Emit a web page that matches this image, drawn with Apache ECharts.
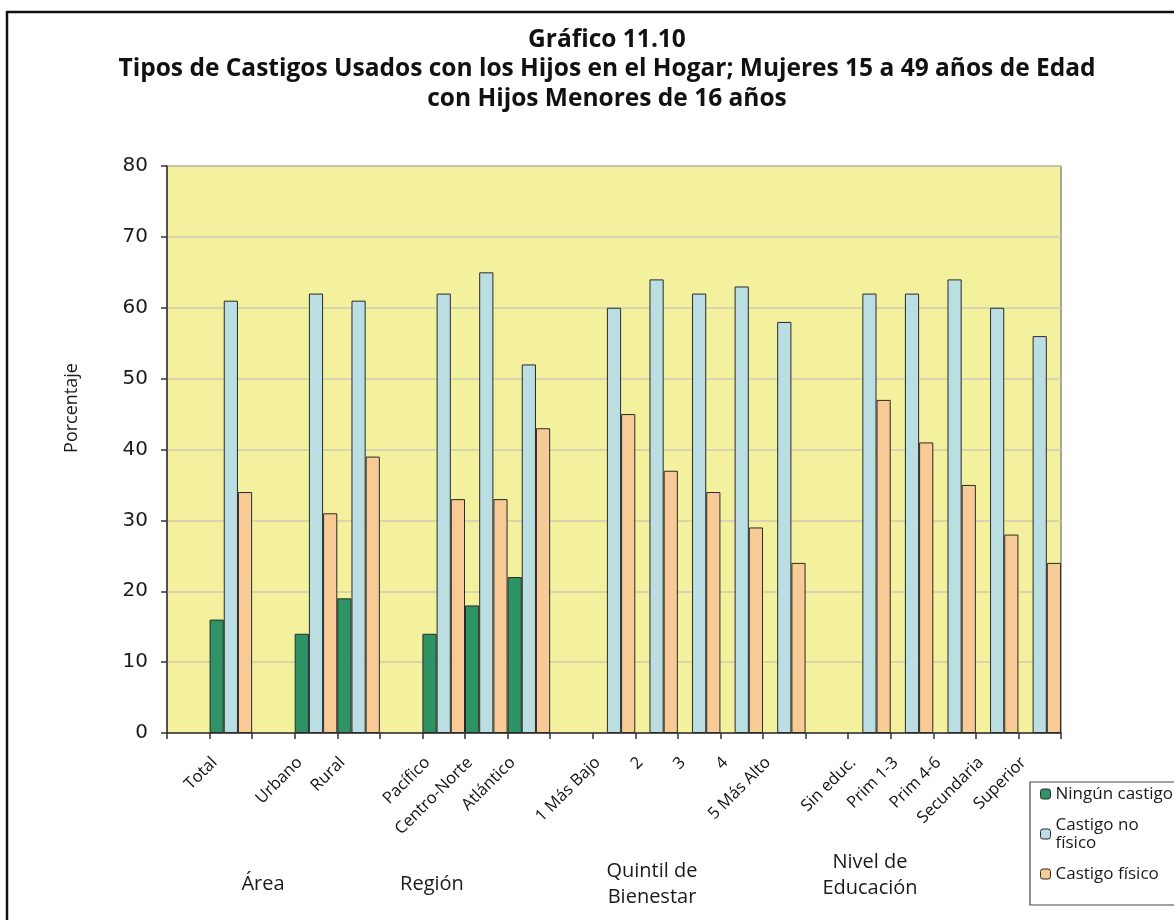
<!DOCTYPE html>
<html>
<head>
<meta charset="utf-8">
<script src="https://cdn.jsdelivr.net/npm/echarts@6/dist/echarts.min.js"></script>
<style>
html,body{margin:0;padding:0;background:#fff;}
#chart{width:1174px;height:920px;}
</style>
</head>
<body>
<div id="chart"></div>
<script>
// Categories (blank entries are the spacer slots between groups)
const categories = ['', 'Total', '', 'Urbano', 'Rural', '', 'Pacífico', 'Centro-Norte', 'Atlántico', '', '1 Más Bajo', '2', '3', '4', '5 Más Alto', '', 'Sin educ.', 'Prim 1-3', 'Prim 4-6', 'Secundaria', 'Superior'];
const seriesNames = ['Ningún castigo', 'Castigo no físico', 'Castigo físico'];
const ningunCastigo = [null, 16, null, 14, 19, null, 14, 18, 22, null, null, null, null, null, null, null, null, null, null, null, null];
const castigoNoFisico = [null, 61, null, 62, 61, null, 62, 65, 52, null, 60, 64, 62, 63, 58, null, 62, 62, 64, 60, 56];
const castigoFisico = [null, 34, null, 31, 39, null, 33, 33, 43, null, 45, 37, 34, 29, 24, null, 47, 41, 35, 28, 24];
const yTicks = [0, 10, 20, 30, 40, 50, 60, 70, 80];
const groupLabels = ['Área', 'Región', 'Quintil de\nBienestar', 'Nivel de\nEducación'];
const yAxisTitle = 'Porcentaje';
const titleLines = ['Gráfico 11.10', 'Tipos de Castigos Usados con los Hijos en el Hogar; Mujeres 15 a 49 años de Edad', 'con Hijos Menores de 16 años'];

const colors = ['#2e9466', '#badee1', '#f8ca96'];
const labelFont = '"Open Sans", "DejaVu Sans", sans-serif';

const chart = echarts.init(document.getElementById('chart'), null, {renderer: 'canvas'});

function mkSeries(name, data, color) {
  return {
    name: name, type: 'bar', data: data, xAxisIndex: 0, yAxisIndex: 0,
    barGap: '0%', barCategoryGap: '0%',
    itemStyle: {color: color, borderColor: '#2a2a2a', borderWidth: 1},
    emphasis: {disabled: true}, animation: false
  };
}

const groupFont = '20px "Open Sans", sans-serif';

const option = {
  animation: false,
  backgroundColor: '#ffffff',
  title: {
    text: titleLines.join('\n'),
    left: 607, top: 25, padding: 0, textAlign: 'center',
    textStyle: {fontFamily: '"Open Sans", sans-serif', fontWeight: 'bold', fontSize: 24.5, lineHeight: 29.5, color: '#111'}
  },
  grid: [
    {left: 167, right: 113, top: 166, bottom: 187, show: true, backgroundColor: '#f3f19d', borderColor: '#555', borderWidth: 1},
    {left: 172, right: 108, top: 166, bottom: 187, show: false}
  ],
  legend: {
    orient: 'vertical', left: 1040, top: 785, itemGap: 4, padding: 0,
    itemWidth: 10, itemHeight: 10,
    data: [
      {name: seriesNames[0]},
      {name: seriesNames[1], textStyle: {padding: [18, 0, 0, 0]}},
      {name: seriesNames[2]}
    ],
    formatter: function (n) { return n === 'Castigo no físico' ? 'Castigo no\nfísico' : n; },
    textStyle: {fontFamily: labelFont, fontSize: 17, lineHeight: 18, color: '#1a1a1a'},
    itemStyle: {borderColor: '#2a2a2a', borderWidth: 1},
    selectedMode: false
  },
  xAxis: [
    {
      type: 'category', data: categories, boundaryGap: true, gridIndex: 0,
      axisLine: {lineStyle: {color: '#333', width: 1.5}},
      axisTick: {show: true, interval: 0, length: 6, lineStyle: {color: '#333', width: 1.5}},
      axisLabel: {show: false},
      splitLine: {show: false}
    },
    {
      type: 'category', data: categories.concat(['']), boundaryGap: false, position: 'bottom', gridIndex: 1,
      axisLine: {show: false}, axisTick: {show: false}, splitLine: {show: false},
      axisLabel: {interval: 0, rotate: 45, margin: 27, fontFamily: labelFont, fontSize: 16.5, color: '#111'}
    }
  ],
  yAxis: [
    {
      type: 'value', min: yTicks[0], max: yTicks[yTicks.length - 1], interval: 10, gridIndex: 0,
      axisLine: {show: true, lineStyle: {color: '#333', width: 1.5}},
      axisTick: {show: true, length: 6, lineStyle: {color: '#333', width: 1.5}},
      axisLabel: {margin: 19, fontFamily: '"DejaVu Sans", sans-serif', fontSize: 20, color: '#1a1a1a'},
      splitLine: {show: true, lineStyle: {color: '#cfcbb4', width: 1.5}}
    },
    {
      type: 'value', min: yTicks[0], max: yTicks[yTicks.length - 1], gridIndex: 1, show: false
    }
  ],
  series: [
    mkSeries(seriesNames[0], ningunCastigo, colors[0]),
    mkSeries(seriesNames[1], castigoNoFisico, colors[1]),
    mkSeries(seriesNames[2], castigoFisico, colors[2])
  ],
  graphic: [
    {type: 'rect', shape: {x: 7, y: 12, width: 1180, height: 930}, style: {fill: null, stroke: '#111', lineWidth: 2.5}, silent: true, z: 100},
    {type: 'rect', shape: {x: 1030, y: 782, width: 160, height: 123}, style: {fill: null, stroke: '#444', lineWidth: 1.2}, silent: true},
    {type: 'text', x: 72, y: 408, rotation: Math.PI / 2, style: {text: yAxisTitle, font: '18px "Open Sans", sans-serif', fill: '#1a1a1a', align: 'center', verticalAlign: 'middle'}},
    {type: 'text', x: 263, y: 884, style: {text: groupLabels[0], font: groupFont, fill: '#1a1a1a', align: 'center', verticalAlign: 'middle'}},
    {type: 'text', x: 432, y: 884, style: {text: groupLabels[1], font: groupFont, fill: '#1a1a1a', align: 'center', verticalAlign: 'middle'}},
    {type: 'text', x: 652, y: 884, style: {text: groupLabels[2], font: groupFont, fill: '#1a1a1a', align: 'center', verticalAlign: 'middle', lineHeight: 26}},
    {type: 'text', x: 870, y: 875, style: {text: groupLabels[3], font: groupFont, fill: '#1a1a1a', align: 'center', verticalAlign: 'middle', lineHeight: 26}}
  ]
};
chart.setOption(option);
</script>
</body>
</html>
